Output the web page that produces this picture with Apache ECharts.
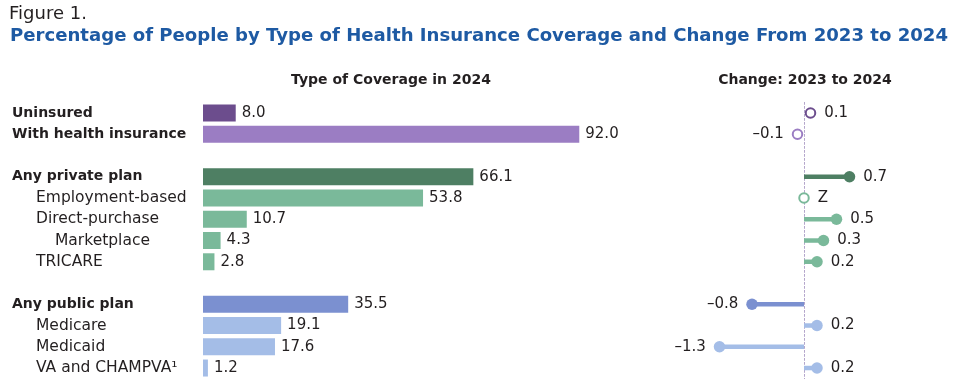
<!DOCTYPE html>
<html>
<head>
<meta charset="utf-8">
<script src="https://cdn.jsdelivr.net/npm/echarts@6/dist/echarts.min.js"></script>
<style>
html,body{margin:0;padding:0;background:#fff;}
#chart{width:963px;height:388px;}
</style>
</head>
<body>
<div id="chart"></div>
<script>
// ---- data ----
const categories = ['Uninsured', 'With health insurance', '', 'Any private plan', 'Employment-based',
  'Direct-purchase', 'Marketplace', 'TRICARE', ' ', 'Any public plan', 'Medicare', 'Medicaid', 'VA and CHAMPVA\u00B9'];
const coverage2024 = [8.0, 92.0, null, 66.1, 53.8, 10.7, 4.3, 2.8, null, 35.5, 19.1, 17.6, 1.2];
const change = [0.1, -0.1, null, 0.7, 0, 0.5, 0.3, 0.2, null, -0.8, 0.2, -1.3, 0.2];
const significant = [false, false, null, true, false, true, true, true, null, true, true, true, true];

// ---- styling ----
const headerRows = ['Uninsured', 'With health insurance', 'Any private plan', 'Any public plan'];
const indent2Rows = ['Marketplace'];
const rowColor = {
  'Uninsured': '#6c4d8d',
  'With health insurance': '#9b7dc3',
  'Any private plan': '#4e7f63',
  'Employment-based': '#7ab99a',
  'Direct-purchase': '#7ab99a',
  'Marketplace': '#7ab99a',
  'TRICARE': '#7ab99a',
  'Any public plan': '#7b90d0',
  'Medicare': '#a4bde7',
  'Medicaid': '#a4bde7',
  'VA and CHAMPVA\u00B9': '#a4bde7'
};
const FONT = 'DejaVu Sans';
const TXT = '#231f20';

const gridTop = 102.4, gridH = 276.25;

const barData = coverage2024.map((v, i) => v == null ? null : {
  value: v, itemStyle: { color: rowColor[categories[i]] }
});

const stemData = change.map((v, i) => (v == null || !significant[i]) ? null : {
  value: v, itemStyle: { color: rowColor[categories[i]] }
});

const dotData = change.map((v, i) => {
  if (v == null) return null;
  const c = rowColor[categories[i]];
  const sig = significant[i];
  const txt = v === 0 ? 'Z' : (v < 0 ? '\u2013' + Math.abs(v).toFixed(1) : v.toFixed(1));
  return {
    value: [v, categories[i]],
    symbolSize: sig ? 11.5 : 9.5,
    itemStyle: sig ? { color: c, opacity: 1 } : { color: '#fff', borderColor: c, borderWidth: 2, opacity: 1 },
    label: { show: true, formatter: txt, position: v < 0 ? 'left' : 'right', distance: 8,
      color: TXT, fontFamily: FONT, fontSize: 15 }
  };
});

const chart = echarts.init(document.getElementById('chart'), null, { renderer: 'canvas' });
chart.setOption({
  animation: false,
  backgroundColor: '#fff',
  textStyle: { fontFamily: FONT },
  title: [
    { text: 'Figure 1.', left: 9, top: 5, padding: 0,
      textStyle: { fontFamily: FONT, fontSize: 18, fontWeight: 'normal', color: TXT } },
    { text: 'Percentage of People by Type of Health Insurance Coverage and Change From 2023 to 2024',
      left: 10, top: 27, padding: 0,
      textStyle: { fontFamily: FONT, fontSize: 18.1, fontWeight: 'bold', color: '#1e5aa3' } },
    { text: 'Type of Coverage in 2024', left: 391, top: 73, padding: 0, textAlign: 'center',
      textStyle: { fontFamily: FONT, fontSize: 14, fontWeight: 'bold', color: TXT } },
    { text: 'Change: 2023 to 2024', left: 805, top: 73, padding: 0, textAlign: 'center',
      textStyle: { fontFamily: FONT, fontSize: 14, fontWeight: 'bold', color: TXT } }
  ],
  grid: [
    { left: 203, top: gridTop, width: 409, height: gridH },
    { left: 674, top: gridTop, width: 260, height: gridH }
  ],
  xAxis: [
    { gridIndex: 0, type: 'value', min: 0, max: 100, show: false },
    { gridIndex: 1, type: 'value', min: -2, max: 2, show: false }
  ],
  yAxis: [
    { gridIndex: 0, type: 'category', data: categories, inverse: true,
      axisLine: { show: false }, axisTick: { show: false }, splitLine: { show: false },
      axisLabel: {
        align: 'left', margin: 191, color: TXT, fontFamily: FONT,
        formatter: function (name) {
          if (name.trim() === '') return '';
          if (headerRows.indexOf(name) >= 0) return '{h|' + name + '}';
          if (indent2Rows.indexOf(name) >= 0) return '{i2|' + name + '}';
          return '{i1|' + name + '}';
        },
        rich: {
          h: { fontFamily: FONT, fontSize: 14, fontWeight: 'bold', color: TXT },
          i1: { fontFamily: FONT, fontSize: 15.5, color: TXT, padding: [0, 0, 0, 24] },
          i2: { fontFamily: FONT, fontSize: 15.5, color: TXT, padding: [0, 0, 0, 43] }
        }
      } },
    { gridIndex: 1, type: 'category', data: categories, inverse: true,
      axisLine: { show: true, onZero: true, lineStyle: { color: '#b4a6cb', type: [2, 2], width: 1 } },
      axisTick: { show: false }, axisLabel: { show: false }, splitLine: { show: false } }
  ],
  series: [
    { type: 'bar', xAxisIndex: 0, yAxisIndex: 0, data: barData, barWidth: 17,
      label: { show: true, position: 'right', distance: 6, fontFamily: FONT, fontSize: 15, color: TXT,
        formatter: p => p.value.toFixed(1) } },
    { type: 'bar', xAxisIndex: 1, yAxisIndex: 1, data: stemData, barWidth: 4.5, z: 2 },
    { type: 'scatter', xAxisIndex: 1, yAxisIndex: 1, data: dotData, z: 3,
      itemStyle: { opacity: 1 } }
  ]
});
</script>
</body>
</html>
